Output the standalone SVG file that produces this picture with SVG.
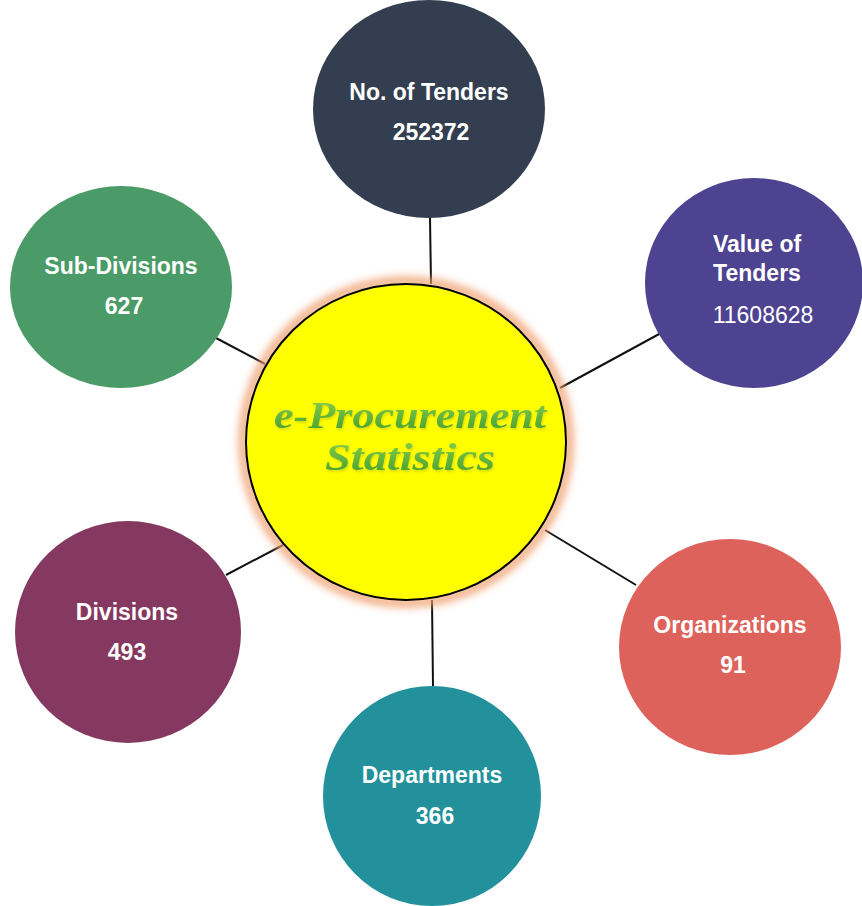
<svg xmlns="http://www.w3.org/2000/svg" width="862" height="906" viewBox="0 0 862 906">
<style>
.lbl{font-family:"Liberation Sans",Arial,sans-serif;font-weight:bold;font-size:23px;fill:#fff;text-anchor:middle}
.num{font-family:"Liberation Sans",Arial,sans-serif;font-size:23px;fill:#fff;text-anchor:middle}
.conn line{stroke:#111;stroke-width:2}
.title{font-family:"Liberation Serif","Times New Roman",serif;font-weight:bold;font-style:italic;font-size:37px;fill:url(#tg);text-anchor:middle}
</style>
<defs>
<linearGradient id="tg" x1="0" y1="0" x2="0" y2="1">
<stop offset="0" stop-color="#8fd44c"/>
<stop offset="1" stop-color="#3e9a2e"/>
</linearGradient>
<filter id="glow" x="-20%" y="-20%" width="140%" height="140%">
<feGaussianBlur stdDeviation="4"/>
</filter>
<filter id="ts" x="-10%" y="-20%" width="120%" height="150%">
<feGaussianBlur in="SourceAlpha" stdDeviation="1"/>
<feOffset dx="1" dy="1.5" result="b"/>
<feFlood flood-color="#a0a000" flood-opacity="0.35"/>
<feComposite in2="b" operator="in"/>
<feMerge><feMergeNode/><feMergeNode in="SourceGraphic"/></feMerge>
</filter>
</defs>
<rect width="862" height="906" fill="#fff"/>
<g class="conn" id="connectors">
<line x1="430" y1="218" x2="431" y2="284"/>
<line x1="661" y1="333" x2="560" y2="388"/>
<line x1="636" y1="585" x2="545" y2="530"/>
<line x1="433" y1="686" x2="432" y2="600"/>
<line x1="226" y1="575" x2="283" y2="545"/>
<line x1="216" y1="338" x2="265" y2="364"/>
</g>
<g id="center">
<ellipse cx="406" cy="442" rx="163" ry="161" fill="none" stroke="#f0a070" stroke-width="8" filter="url(#glow)"/>
<ellipse cx="406" cy="442" rx="160" ry="158" fill="#ffff00" stroke="#000" stroke-width="2"/>
<g filter="url(#ts)">
<text class="title" x="410" y="428" textLength="272" lengthAdjust="spacingAndGlyphs">e-Procurement</text>
<text class="title" x="410" y="470" textLength="170" lengthAdjust="spacingAndGlyphs">Statistics</text>
</g>
</g>
<g id="tenders">
<ellipse cx="429" cy="109" rx="116" ry="109" fill="#333f50"/>
<text class="lbl" x="429" y="100">No. of Tenders</text>
<text class="lbl" x="431" y="140">252372</text>
</g>
<g id="value">
<ellipse cx="754" cy="283" rx="109" ry="105" fill="#4e4391"/>
<text class="lbl" x="757" y="252">Value of</text>
<text class="lbl" x="757" y="281">Tenders</text>
<text class="num" x="763" y="323">11608628</text>
</g>
<g id="organizations">
<ellipse cx="730" cy="647" rx="111" ry="108" fill="#dd625b"/>
<text class="lbl" x="730" y="633">Organizations</text>
<text class="lbl" x="733" y="673">91</text>
</g>
<g id="departments">
<ellipse cx="432" cy="796" rx="109" ry="110" fill="#22919c"/>
<text class="lbl" x="432" y="783">Departments</text>
<text class="lbl" x="435" y="824">366</text>
</g>
<g id="divisions">
<ellipse cx="128" cy="632" rx="113" ry="111" fill="#853860"/>
<text class="lbl" x="127" y="620">Divisions</text>
<text class="lbl" x="127" y="660">493</text>
</g>
<g id="subdivisions">
<ellipse cx="121" cy="287" rx="111" ry="101" fill="#4a9b67"/>
<text class="lbl" x="121" y="274">Sub-Divisions</text>
<text class="lbl" x="124" y="314">627</text>
</g>
</svg>
